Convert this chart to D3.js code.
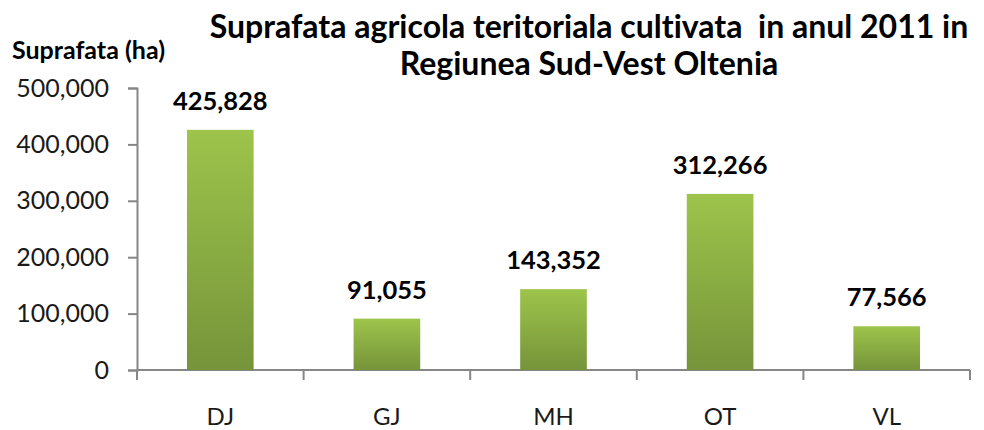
<!DOCTYPE html>
<html>
<head>
<meta charset="utf-8">
<script src="https://cdn.jsdelivr.net/npm/d3@7"></script>
<style>
  html, body { margin: 0; padding: 0; background: #fff; }
  svg { display: block; font-family: Lato, "Open Sans", sans-serif; font-variant-ligatures: none; }
</style>
</head>
<body>
<div id="chart"></div>
<script>
// data
const categories = ["DJ", "GJ", "MH", "OT", "VL"];
const values = [425828, 91055, 143352, 312266, 77566];
const yTicks = [0, 100000, 200000, 300000, 400000, 500000];
const titleLines = ["Suprafata agricola teritoriala cultivata  in anul 2011 in", "Regiunea Sud-Vest Oltenia"];
const yLabel = "Suprafata (ha)";

const width = 984, height = 430;
const margin = { top: 88, right: 14, bottom: 60, left: 137 };

const svg = d3.select("#chart").append("svg")
    .attr("width", width)
    .attr("height", height);

const defs = svg.append("defs");
const grad = defs.append("linearGradient")
    .attr("id", "barGrad")
    .attr("x1", 0).attr("y1", 0).attr("x2", 0).attr("y2", 1);
grad.append("stop").attr("offset", "0%").attr("stop-color", "#9dc44b");
grad.append("stop").attr("offset", "100%").attr("stop-color", "#76943a");

const x = d3.scaleBand()
    .domain(categories)
    .range([margin.left, width - margin.right])
    .padding(0);

const y = d3.scaleLinear()
    .domain([0, 500000])
    .range([height - margin.bottom, margin.top]);

const fmt = d3.format(",");
const axisColor = "#868686";

// y axis
const yAxis = svg.append("g")
    .attr("transform", `translate(${margin.left},0)`)
    .call(d3.axisLeft(y).tickValues(yTicks).tickFormat(fmt).tickSize(9).tickPadding(19));
yAxis.select(".domain").attr("stroke", axisColor).attr("stroke-width", 2);
yAxis.selectAll(".tick line").attr("stroke", axisColor).attr("stroke-width", 2);
yAxis.selectAll(".tick text")
    .attr("fill", "#1a1a1a")
    .attr("font-size", 25)
    .attr("font-family", "Lato, sans-serif");

// x axis: line along baseline, ticks at band boundaries
const xAxis = svg.append("g").attr("class", "x-axis");
xAxis.append("line")
    .attr("x1", margin.left).attr("x2", width - margin.right)
    .attr("y1", y(0)).attr("y2", y(0))
    .attr("stroke", axisColor).attr("stroke-width", 2);
const bounds = categories.map(c => x(c)).concat([x(categories[categories.length - 1]) + x.bandwidth()]);
xAxis.selectAll("line.tick")
    .data(bounds)
    .join("line")
    .attr("class", "tick")
    .attr("x1", d => d).attr("x2", d => d)
    .attr("y1", y(0)).attr("y2", y(0) + 10)
    .attr("stroke", axisColor).attr("stroke-width", 2);
xAxis.selectAll("text")
    .data(categories)
    .join("text")
    .attr("x", d => x(d) + x.bandwidth() / 2)
    .attr("y", y(0) + 55)
    .attr("text-anchor", "middle")
    .attr("fill", "#1a1a1a")
    .attr("font-size", 24)
    .text(d => d);

// bars
const barW = x.bandwidth() * 0.4;
svg.append("g")
    .selectAll("rect")
    .data(values)
    .join("rect")
    .attr("x", (d, i) => x(categories[i]) + (x.bandwidth() - barW) / 2)
    .attr("y", d => y(d))
    .attr("width", barW)
    .attr("height", d => y(0) - y(d))
    .attr("fill", "url(#barGrad)");

// value labels
svg.append("g")
    .selectAll("text")
    .data(values)
    .join("text")
    .attr("x", (d, i) => x(categories[i]) + x.bandwidth() / 2)
    .attr("y", d => y(d) - 20)
    .attr("text-anchor", "middle")
    .attr("font-size", 25.5)
    .attr("font-weight", "bold")
    .attr("fill", "#000")
    .text(d => fmt(d));

// title
svg.append("text")
    .attr("x", 589)
    .attr("text-anchor", "middle")
    .attr("font-size", 32)
    .attr("font-weight", "bold")
    .attr("fill", "#000")
    .selectAll("tspan")
    .data(titleLines)
    .join("tspan")
    .attr("x", 589)
    .attr("y", (d, i) => 38 + i * 37)
    .attr("xml:space", "preserve")
    .style("white-space", "pre")
    .text(d => d);

// y axis label
svg.append("text")
    .attr("x", 12)
    .attr("y", 59)
    .attr("font-size", 25)
    .attr("font-weight", "bold")
    .attr("fill", "#000")
    .text(yLabel);
</script>
</body>
</html>
